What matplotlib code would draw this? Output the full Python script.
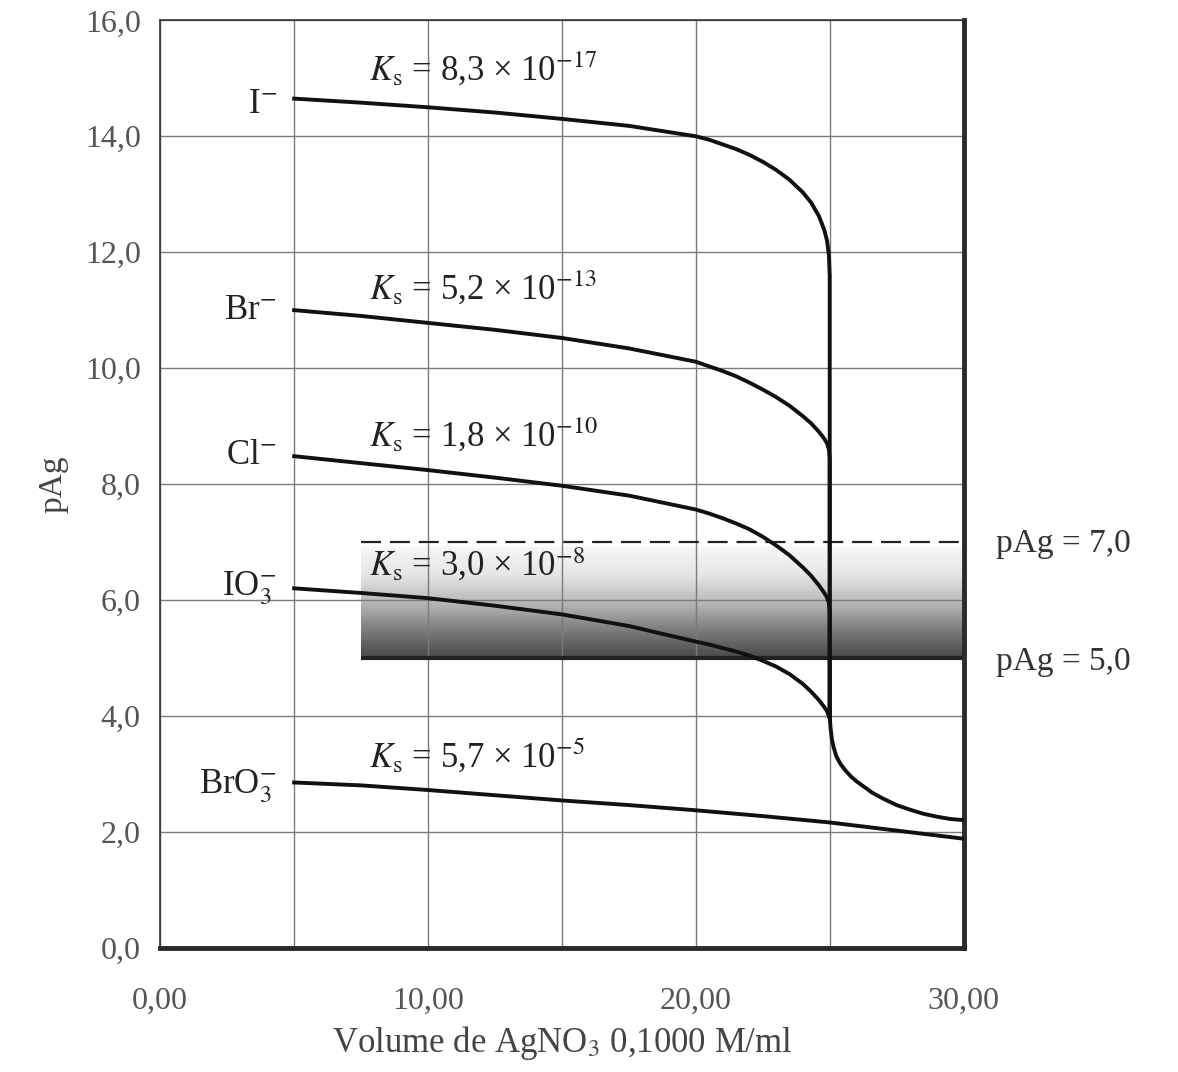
import numpy as np
import matplotlib
matplotlib.use("Agg")
import matplotlib.pyplot as plt
from matplotlib.colors import LinearSegmentedColormap

plt.rcParams['font.family'] = ['Liberation Serif', 'DejaVu Serif']
plt.rcParams['mathtext.fontset'] = 'stix'

# data (volume in ml, pAg)
vol_I = [5, 7.5, 10, 12.5, 15, 17.5, 20, 20.5, 21, 21.5, 22, 22.5, 23, 23.5, 24,
         24.3, 24.6, 24.8, 24.9, 24.97, 25.0, 25.0]
pag_I = [14.65, 14.58, 14.5, 14.41, 14.3, 14.18, 14.0, 13.94, 13.86, 13.78, 13.68, 13.56, 13.42, 13.25, 13.03,
         12.86, 12.62, 12.38, 12.2, 11.95, 11.6, 4.0]

vol_Br = [5, 7.5, 10, 12.5, 15, 17.5, 20, 20.5, 21, 21.5, 22, 22.5, 23, 23.5, 24,
          24.3, 24.6, 24.8, 24.9, 24.97, 25.0, 25.0]
pag_Br = [11.0, 10.9, 10.78, 10.66, 10.52, 10.34, 10.11, 10.03, 9.95, 9.86, 9.75, 9.63, 9.5, 9.35, 9.17,
          9.05, 8.9, 8.78, 8.7, 8.6, 8.45, 4.0]

vol_Cl = [5, 7.5, 10, 12.5, 15, 17.5, 20, 20.5, 21, 21.5, 22, 22.5, 23, 23.5, 24,
          24.3, 24.6, 24.8, 24.9, 24.97, 25.0, 25.0]
pag_Cl = [8.48, 8.36, 8.24, 8.11, 7.97, 7.8, 7.56, 7.49, 7.41, 7.32, 7.22, 7.09, 6.94, 6.77, 6.56,
          6.42, 6.25, 6.12, 6.04, 5.95, 5.8, 4.0]

vol_IO3 = [5, 7.5, 10, 12.5, 15, 17.5, 20, 20.5, 21, 21.5, 22, 22.5, 23, 23.5, 24,
           24.3, 24.6, 24.8, 24.9, 25.0]
pag_IO3 = [6.2, 6.12, 6.03, 5.9, 5.75, 5.55, 5.28, 5.23, 5.17, 5.11, 5.04, 4.95, 4.85, 4.72, 4.55,
           4.42, 4.27, 4.15, 4.08, 3.95]

vol_BrO3 = [5, 7.5, 10, 12.5, 15, 17.5, 20, 22.5, 25, 27.5, 30]
pag_BrO3 = [2.85, 2.8, 2.72, 2.63, 2.54, 2.46, 2.37, 2.27, 2.16, 2.02, 1.88]

# after the equivalence point (excess Ag+), shared by all halides
vol_ex = [25, 25.03, 25.08, 25.15, 25.25, 25.4, 25.6, 25.8, 26.0, 26.3, 26.6, 27, 27.5, 28, 28.5, 29, 29.5, 30]
pag_ex = [4.0, 3.8, 3.6, 3.45, 3.3, 3.17, 3.05, 2.95, 2.87, 2.77, 2.67, 2.57, 2.46, 2.38, 2.31, 2.26, 2.22, 2.2]

ions = ["I$^{-}$", "Br$^{-}$", "Cl$^{-}$", "IO$_3^{-}$", "BrO$_3^{-}$"]
ks_text = ["8,3", "5,2", "1,8", "3,0", "5,7"]
ks_exp = ["-17", "-13", "-10", "-8", "-5"]
ion_y = [14.55, 11.0, 8.5, 6.2, 2.78]
ks_y = [15.15, 11.37, 8.84, 6.61, 3.3]

x_ticks = [0, 10, 20, 30]
x_ticklabels = ["0,00", "10,00", "20,00", "30,00"]
y_ticks = [0, 2, 4, 6, 8, 10, 12, 14, 16]
y_ticklabels = ["0,0", "2,0", "4,0", "6,0", "8,0", "10,0", "12,0", "14,0", "16,0"]

fig = plt.figure(figsize=(11.78, 10.72), dpi=100)
ax = fig.add_axes([0.136, 0.116, 0.682, 0.865])

ax.set_xlim(0, 30)
ax.set_ylim(0, 16)

# shaded band between pAg 5 and 7
cmap = LinearSegmentedColormap.from_list("band", ["#484848", "#7c7c7c", "#b8b8b8", "#e6e6e6", "#f6f6f6"])
grad = np.linspace(0, 1, 256).reshape(-1, 1)
ax.imshow(grad, cmap=cmap, origin="lower", aspect="auto",
          extent=[7.5, 30, 5, 6.9], zorder=1)
ax.plot([7.5, 30], [5, 5], color="#222222", lw=3, zorder=1.6, solid_capstyle="butt")
ax.plot([7.5, 30], [7, 7], color="#222222", lw=1.6, ls=(0, (9, 4)), zorder=1.6)

ax.set_axisbelow('line')
ax.set_xticks(x_ticks)
ax.set_xticks([5, 15, 25], minor=True)
ax.set_yticks(y_ticks)
ax.grid(True, color="#7a7a7a", lw=1.0)
ax.grid(True, which="minor", axis="x", color="#7a7a7a", lw=1.0)
ax.set_xticklabels(x_ticklabels)
ax.set_yticklabels(y_ticklabels)
ax.tick_params(which="both", length=0, labelsize=23, colors="#555555")
ax.tick_params(axis="x", pad=28)
ax.tick_params(axis="y", pad=14)

for s in ["left", "top"]:
    ax.spines[s].set_linewidth(1.2)
    ax.spines[s].set_color("#333333")
for s in ["right", "bottom"]:
    ax.spines[s].set_linewidth(3.5)
    ax.spines[s].set_color("#2a2a2a")

# titration curves
for v, p in [(vol_I, pag_I), (vol_Br, pag_Br), (vol_Cl, pag_Cl), (vol_IO3, pag_IO3)]:
    ax.plot(v, p, color="#111111", lw=2.8, zorder=3)
ax.plot(vol_ex, pag_ex, color="#111111", lw=2.8, zorder=3)
ax.plot(vol_BrO3, pag_BrO3, color="#111111", lw=2.8, zorder=3)

for name, y in zip(ions, ion_y):
    ax.text(4.35, y, name, ha="right", va="center", fontsize=25, color="#222222")
for k, e, y in zip(ks_text, ks_exp, ks_y):
    ax.text(7.8, y, "$K_\\mathrm{s}$ = " + k + " × 10$^{" + e.replace("-", "−") + "}$",
            ha="left", va="center", fontsize=25, color="#222222", zorder=4)

ax.text(31.2, 6.97, "pAg = 7,0", ha="left", va="center", fontsize=24, color="#333333", clip_on=False)
ax.text(31.2, 4.93, "pAg = 5,0", ha="left", va="center", fontsize=24, color="#333333", clip_on=False)

ax.set_xlabel("Volume de AgNO$_3$ 0,1000 M/ml", fontsize=25, color="#444444", labelpad=6)
ax.set_ylabel("pAg", fontsize=24, color="#444444", labelpad=12)

fig.savefig("out.png", dpi=100)
